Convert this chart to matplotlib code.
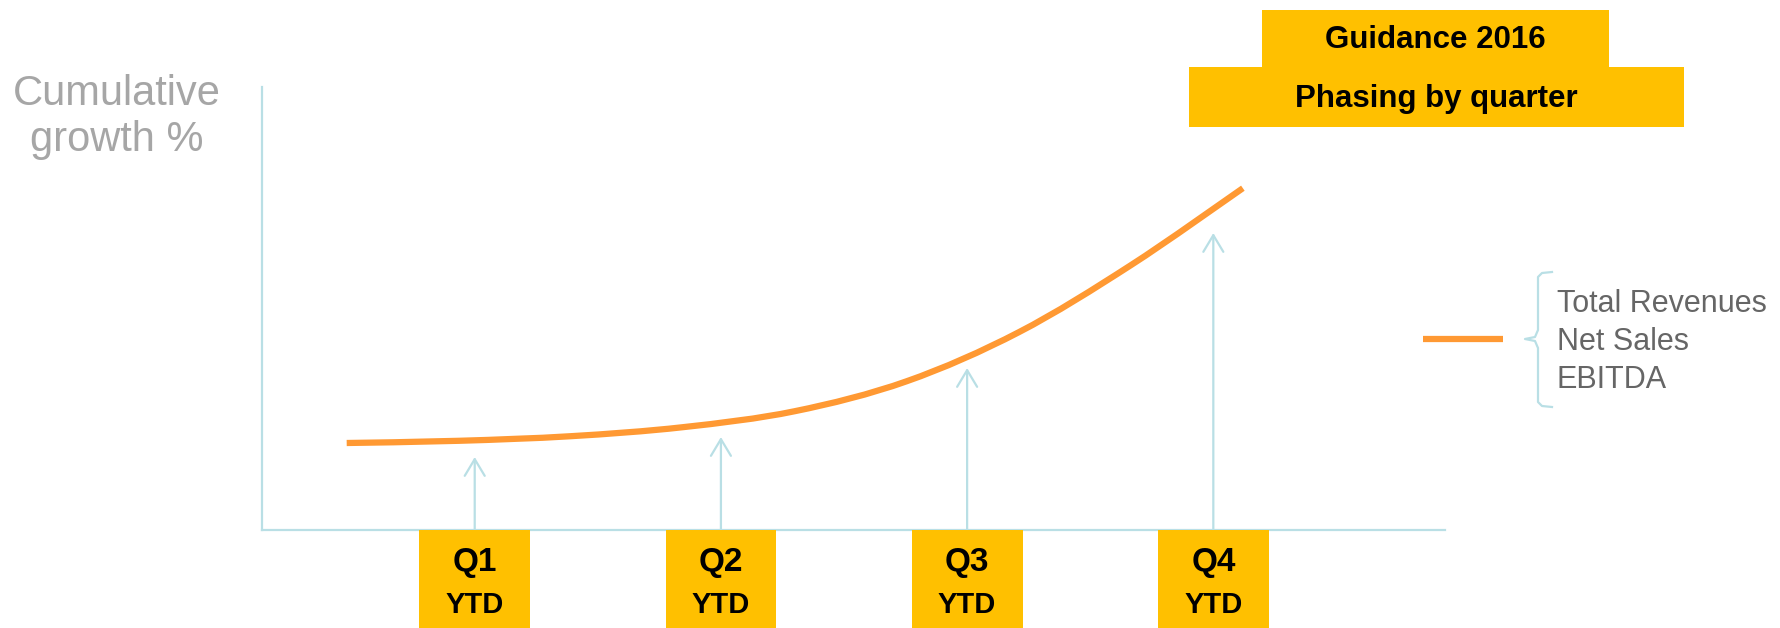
import matplotlib
matplotlib.use("Agg")
import matplotlib.pyplot as plt
from matplotlib.patches import Rectangle, PathPatch
from matplotlib.path import Path
from matplotlib.lines import Line2D
import matplotlib.transforms as mtransforms

plt.rcParams['font.family'] = ['Liberation Sans', 'DejaVu Sans']

# ---- data ----
quarters = ["Q1", "Q2", "Q3", "Q4"]
quarter_pos = [1, 2, 3, 4]
quarter_sub = "YTD"
arrow_tips = [7.3, 9.3, 16.2, 29.7]          # growth level reached by each quarter arrow
curve_q = [0.48, 0.935, 1.39, 1.845, 2.30, 2.755, 3.21, 3.665, 4.12]
curve_growth = [8.7, 8.92, 9.38, 10.28, 11.88, 14.88, 19.78, 26.48, 34.18]
y_label = ["Cumulative", "growth %"]
title_top = "Guidance 2016"
title_bottom = "Phasing by quarter"
legend_items = ["Total Revenues", "Net Sales", "EBITDA"]

# ---- style ----
GOLD = "#FFC000"
ORANGE = "#FF9933"
LBLUE = "#B9DFE5"
W, H = 1781, 628

fig = plt.figure(figsize=(W / 100, H / 100), dpi=100)
fig.patch.set_facecolor("white")


def fx(px):
    return px / W


def fy(py):
    return 1 - py / H


ax = fig.add_axes([fx(262), fy(530), fx(1445) - fx(262), (530 - 87) / H])
ax.set_xlim(0.136, 4.941)
ax.set_ylim(0, 44.3)
for s in ["top", "right"]:
    ax.spines[s].set_visible(False)
for s in ["left", "bottom"]:
    ax.spines[s].set_color(LBLUE)
    ax.spines[s].set_linewidth(1.6)
ax.set_xticks([])
ax.set_yticks([])
ax.patch.set_alpha(0)


# smooth curve through the read points (Catmull-Rom rendered as Bezier path)
def smooth_path(xs, ys):
    pts = list(zip(xs, ys))
    verts = [pts[0]]
    codes = [Path.MOVETO]
    n = len(pts)
    for i in range(n - 1):
        p0 = pts[i - 1] if i > 0 else pts[i]
        p1 = pts[i]
        p2 = pts[i + 1]
        p3 = pts[i + 2] if i + 2 < n else pts[i + 1]
        c1 = (p1[0] + (p2[0] - p0[0]) / 6, p1[1] + (p2[1] - p0[1]) / 6)
        c2 = (p2[0] - (p3[0] - p1[0]) / 6, p2[1] - (p3[1] - p1[1]) / 6)
        verts += [c1, c2, p2]
        codes += [Path.CURVE4] * 3
    return Path(verts, codes)


ax.add_patch(PathPatch(smooth_path(curve_q, curve_growth), facecolor="none",
                       edgecolor=ORANGE, lw=4.5, capstyle="butt",
                       joinstyle="round", zorder=3))

# arrows
for q, tip in zip(quarter_pos, arrow_tips):
    ax.annotate("", xy=(q, tip), xytext=(q, -0.1),
                arrowprops=dict(arrowstyle="->,head_length=0.6,head_width=0.36",
                                color=LBLUE, lw=1.6, shrinkA=0, shrinkB=0,
                                mutation_scale=20),
                annotation_clip=False, zorder=2)

# quarter boxes
trans = mtransforms.blended_transform_factory(ax.transData, ax.transAxes)
box_w = 0.45
box_h = 100 / 443
for q, lab in zip(quarter_pos, quarters):
    ax.add_patch(Rectangle((q - box_w / 2, -box_h), box_w, box_h,
                           transform=trans, facecolor=GOLD, edgecolor="none",
                           clip_on=False, zorder=4))
    ax.text(q, -(563 - 530) / 443, lab, transform=trans, ha="center",
            va="center", fontsize=24, fontweight="bold", color="black",
            zorder=5)
    ax.text(q, -(605 - 530) / 443, quarter_sub, transform=trans, ha="center",
            va="center", fontsize=21, fontweight="bold", color="black",
            zorder=5)

# y label
fig.text(fx(117), fy(105), y_label[0], ha="center", va="baseline",
         fontsize=30, color="#A6A6A6")
fig.text(fx(117), fy(151), y_label[1], ha="center", va="baseline",
         fontsize=30, color="#A6A6A6")

# title boxes
fig.add_artist(Rectangle((fx(1262), fy(68)), fx(1609) - fx(1262), (68 - 10) / H,
                         transform=fig.transFigure, facecolor=GOLD,
                         edgecolor="none"))
fig.add_artist(Rectangle((fx(1189), fy(127)), fx(1684) - fx(1189), (127 - 67) / H,
                         transform=fig.transFigure, facecolor=GOLD,
                         edgecolor="none"))
fig.text(fx(1435.5), fy(40), title_top, ha="center", va="center",
         fontsize=22.5, fontweight="bold", color="black")
fig.text(fx(1436.5), fy(99), title_bottom, ha="center", va="center",
         fontsize=22.5, fontweight="bold", color="black")

# legend line
fig.add_artist(Line2D([fx(1423), fx(1503)], [fy(339), fy(339)],
                      transform=fig.transFigure, color=ORANGE, lw=4.5,
                      solid_capstyle="butt"))
# brace
bx = [1552, 1542, 1538, 1538, 1535, 1525, 1535, 1538, 1538, 1542, 1552]
by = [272, 273, 277, 330, 337, 339, 341, 348, 402, 406, 407]
fig.add_artist(Line2D([fx(v) for v in bx], [fy(v) for v in by],
                      transform=fig.transFigure, color=LBLUE, lw=1.6))
for i, t in enumerate(legend_items):
    fig.text(fx(1557), fy(312 + 38 * i), t, ha="left", va="baseline",
             fontsize=22, color="#666666")

fig.savefig("out.png", dpi=100, facecolor="white")
